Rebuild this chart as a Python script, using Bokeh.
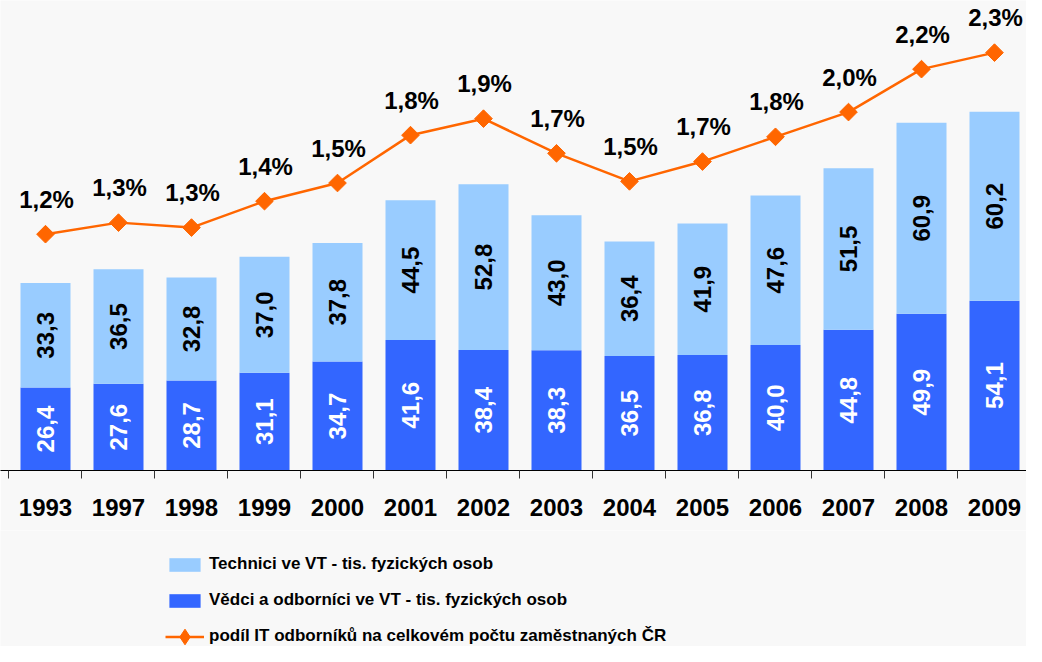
import math
from bokeh.plotting import figure
from bokeh.layouts import column
from bokeh.models import (ColumnDataSource, Range1d, LinearAxis, FixedTicker,
                          Legend, LegendItem)
from bokeh.core.properties import value
from bokeh.embed import file_html
from bokeh.resources import INLINE

years = ["1993", "1997", "1998", "1999", "2000", "2001", "2002",
         "2003", "2004", "2005", "2006", "2007", "2008", "2009"]
vedci = [26.4, 27.6, 28.7, 31.1, 34.7, 41.6, 38.4, 38.3, 36.5, 36.8, 40.0, 44.8, 49.9, 54.1]
technici = [33.3, 36.5, 32.8, 37.0, 37.8, 44.5, 52.8, 43.0, 36.4, 41.9, 47.6, 51.5, 60.9, 60.2]
podil = [1.22, 1.29, 1.26, 1.42, 1.53, 1.82, 1.92, 1.71, 1.54, 1.66, 1.81, 1.96, 2.22, 2.32]

label_tech = "Technici ve VT - tis. fyzických osob"
label_ved = "Vědci a odborníci ve VT - tis. fyzických osob"
label_podil = "podíl IT odborníků na celkovém počtu zaměstnaných ČR"

def cz(v):
    return f"{v:.1f}".replace(".", ",")

idx = list(range(len(years)))
src = ColumnDataSource(dict(
    x=idx,
    ved=vedci,
    tech_top=[a + b for a, b in zip(vedci, technici)],
    ved_mid=[a / 2 for a in vedci],
    tech_mid=[a + b / 2 for a, b in zip(vedci, technici)],
    ved_lbl=[cz(v) for v in vedci],
    tech_lbl=[cz(v) for v in technici],
    podil=podil,
    podil_lbl=[cz(v) + "%" for v in podil],
))

BG = "#f8f8f8"
FONT = "Liberation Sans"
LIGHT = "#99CCFF"
DARK = "#3366FF"
ORANGE = "#FF6600"

# ---------------- main chart ----------------
p = figure(width=1026, height=530, output_backend="svg", toolbar_location=None,
           x_range=Range1d(-0.6164, 13.4384), y_range=Range1d(0, 149.7),
           x_axis_location=None, y_axis_location=None,
           min_border_left=0, min_border_right=0, min_border_top=0,
           min_border_bottom=60, background_fill_color=BG, border_fill_color=BG,
           outline_line_color=None)
p.xgrid.visible = False
p.ygrid.visible = False
p.extra_y_ranges = {"pct": Range1d(-0.212, 2.636)}

ax = LinearAxis(ticker=FixedTicker(ticks=idx, minor_ticks=[i - 0.5 for i in range(len(years) + 1)]),
                major_label_overrides={i: y for i, y in zip(idx, years)})
ax.major_tick_line_color = None
ax.major_tick_out = 0
ax.major_tick_in = 0
ax.minor_tick_out = 8
ax.minor_tick_in = 0
ax.minor_tick_line_color = "#333333"
ax.axis_line_color = "#000000"
ax.axis_line_width = 1.2
ax.major_label_text_font = FONT
ax.major_label_text_font_style = "bold"
ax.major_label_text_font_size = "24px"
ax.major_label_text_color = "#000000"
ax.major_label_standoff = 20
p.add_layout(ax, "below")

bw = 0.685
p.vbar(x="x", bottom=0, top="ved", width=bw, source=src,
       fill_color=DARK, line_color=None)
p.vbar(x="x", bottom="ved", top="tech_top", width=bw, source=src,
       fill_color=LIGHT, line_color=None)

p.text(x="x", y="ved_mid", text="ved_lbl", source=src, angle=math.pi / 2,
       text_align="center", text_baseline="middle", text_color="white",
       text_font=value(FONT), text_font_style="bold", text_font_size="24px")
p.text(x="x", y="tech_mid", text="tech_lbl", source=src, angle=math.pi / 2,
       text_align="center", text_baseline="middle", text_color="black",
       text_font=value(FONT), text_font_style="bold", text_font_size="24px")

p.line(x="x", y="podil", source=src, y_range_name="pct",
       line_color=ORANGE, line_width=2.5)
p.scatter(x="x", y="podil", source=src, y_range_name="pct",
          marker="square", size=12.5, angle=math.pi / 4,
          fill_color=ORANGE, line_color=ORANGE)
p.text(x="x", y="podil", text="podil_lbl", source=src, y_range_name="pct",
       x_offset=1, y_offset=-35, text_align="center", text_baseline="alphabetic",
       text_color="black", text_font=value(FONT), text_font_style="bold",
       text_font_size="24px")

# ---------------- legend strip ----------------
q = figure(width=1026, height=116, output_backend="svg", toolbar_location=None,
           x_range=Range1d(0, 1), y_range=Range1d(0, 1),
           x_axis_location=None, y_axis_location=None,
           min_border_left=0, min_border_right=0, min_border_top=0,
           min_border_bottom=0, background_fill_color=BG, border_fill_color=BG,
           outline_line_color=None)
q.xgrid.visible = False
q.ygrid.visible = False
lt = q.vbar(x="x", bottom="ved", top="tech_top", width=bw, source=src,
            fill_color=LIGHT, line_color=None, visible=False)
ld = q.vbar(x="x", bottom=0, top="ved", width=bw, source=src,
            fill_color=DARK, line_color=None, visible=False)
ll = q.line(x="x", y="podil", source=src, line_color=ORANGE, line_width=2.5,
            visible=False)
lp = q.scatter(x="x", y="podil", source=src, marker="diamond", size=12.5,
               fill_color=ORANGE, line_color=ORANGE, visible=False)


def style_legend(lg, glyph_h, label_h, spacing):
    lg.glyph_width = 39
    lg.glyph_height = glyph_h
    lg.label_height = label_h
    lg.label_standoff = 5
    lg.spacing = spacing
    lg.padding = 0
    lg.margin = 0
    lg.border_line_color = None
    lg.background_fill_alpha = 0
    lg.inactive_fill_alpha = 0
    lg.label_text_font = FONT
    lg.label_text_font_style = "bold"
    lg.label_text_font_size = "17px"
    lg.label_text_color = "black"


legend_bars = Legend(items=[
    LegendItem(label=label_tech, renderers=[lt]),
    LegendItem(label=label_ved, renderers=[ld]),
], location=(165, 36))
style_legend(legend_bars, 17, 20, 16)
q.add_layout(legend_bars, "center")

legend_line = Legend(items=[
    LegendItem(label=label_podil, renderers=[ll, lp]),
], location=(165, -9.5))
style_legend(legend_line, 39, 20, 0)
q.add_layout(legend_line, "center")

layout = column(p, q, spacing=0)
open("out.html", "w").write(file_html(layout, INLINE))
